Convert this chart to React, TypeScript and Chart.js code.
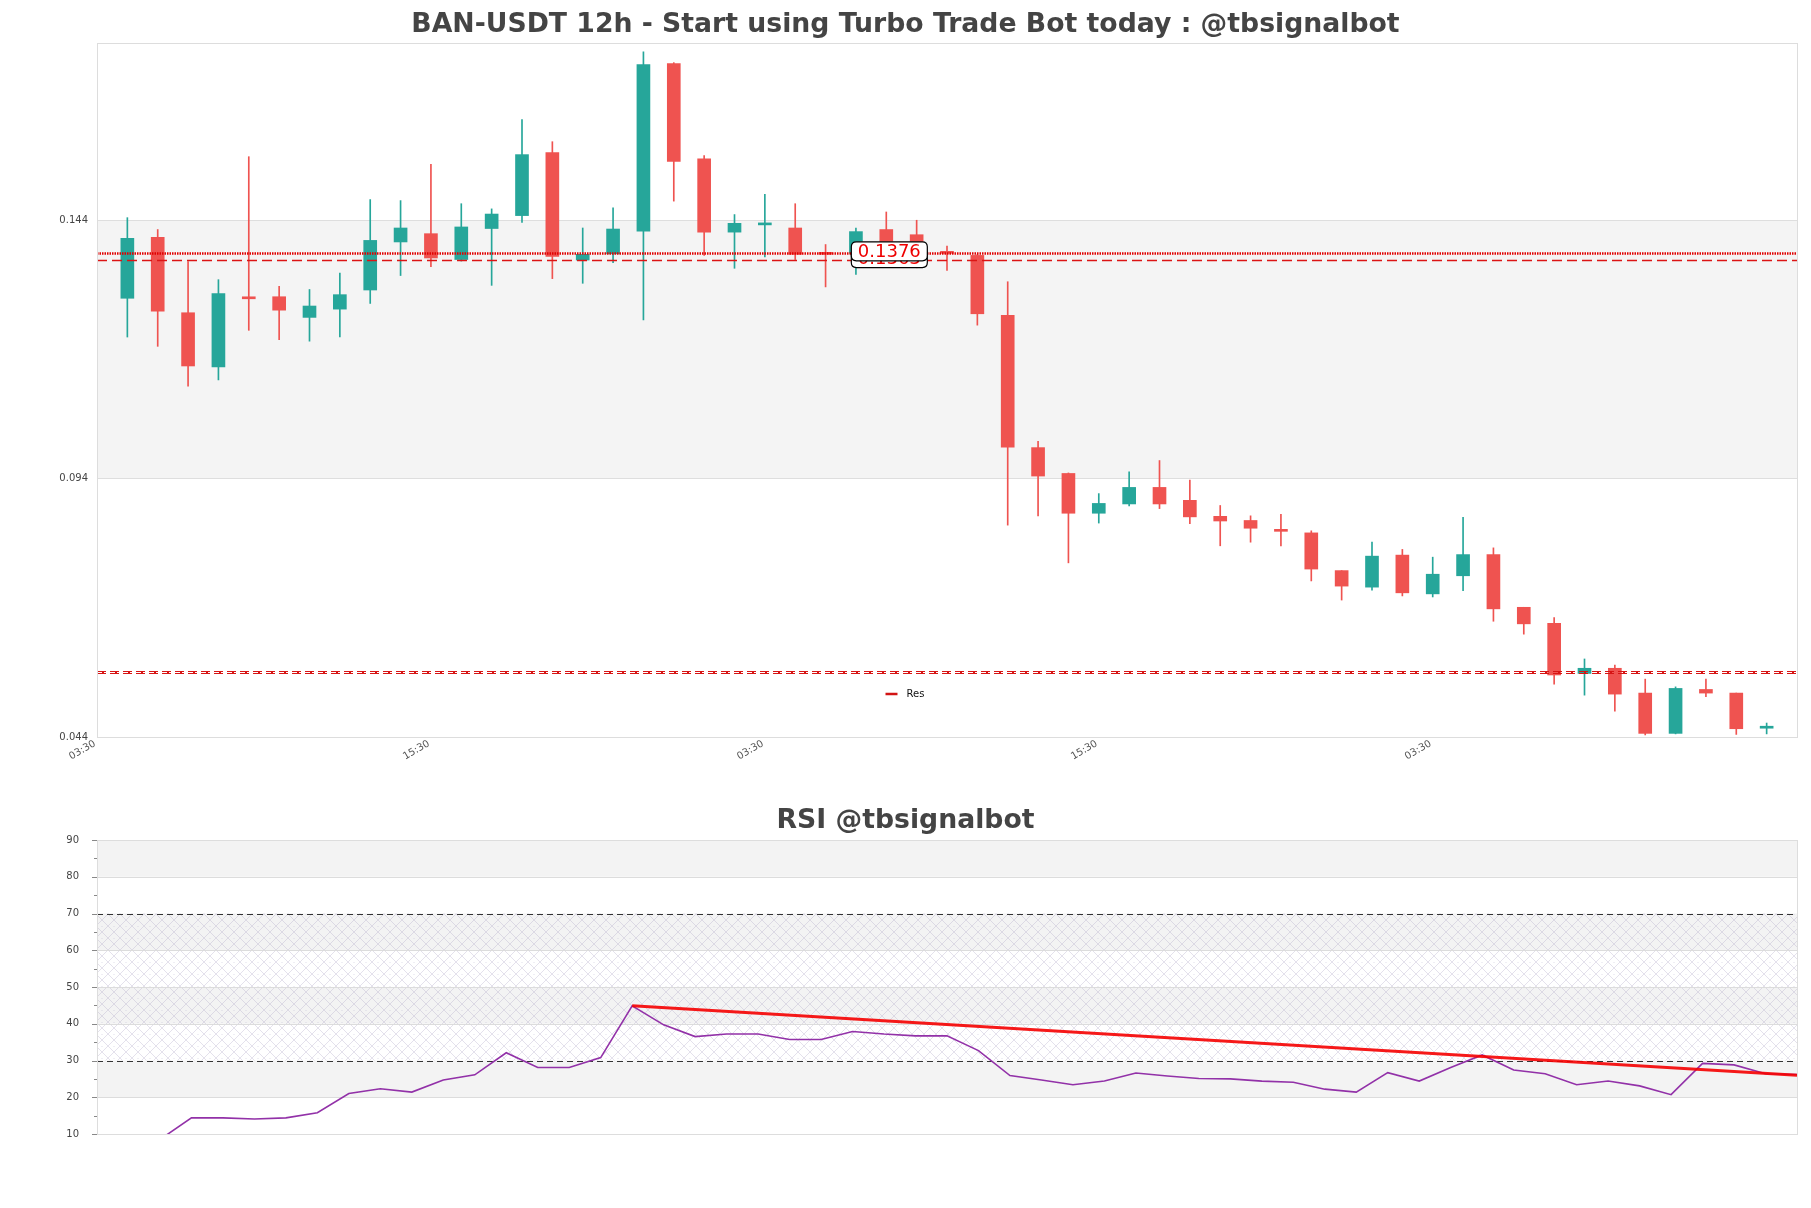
import React, { useEffect, useRef } from "react";
import { Chart, registerables } from "chart.js";

Chart.register(...registerables);

const mainTitle = "BAN-USDT 12h - Start using Turbo Trade Bot today : @tbsignalbot";
const rsiTitle = "RSI @tbsignalbot";
const legendLabel = "Res";

const opens = [
  0.1289, 0.1407, 0.1261, 0.1156, 0.129, 0.1292, 0.1252, 0.1268, 0.1305, 0.1398,
  0.1414, 0.1364, 0.1424, 0.1449, 0.1571, 0.1363, 0.1375, 0.1419, 0.1743, 0.1559,
  0.1417, 0.1431, 0.1425, 0.1376, 0.1376, 0.1422, 0.1412, 0.1378, 0.1372, 0.1256,
  0.1, 0.095, 0.0873, 0.0891, 0.0923, 0.0898, 0.0867, 0.0859, 0.0839, 0.0835,
  0.0762, 0.073, 0.0792, 0.0717, 0.0752, 0.0793, 0.0691, 0.066, 0.0563, 0.0573,
  0.0525, 0.0447, 0.0532, 0.0525, 0.0457,
];
const highs = [
  0.1445, 0.1422, 0.136, 0.1325, 0.1563, 0.1312, 0.1306, 0.1338, 0.148, 0.1478,
  0.1548, 0.1472, 0.1462, 0.1635, 0.1592, 0.1425, 0.1464, 0.1766, 0.1745, 0.1565,
  0.1451, 0.149, 0.1472, 0.1393, 0.1425, 0.1456, 0.144, 0.139, 0.1374, 0.1321,
  0.1012, 0.0951, 0.0911, 0.0953, 0.0975, 0.0937, 0.0888, 0.0868, 0.0871, 0.0839,
  0.0762, 0.0817, 0.0803, 0.0788, 0.0865, 0.0806, 0.0691, 0.0671, 0.0591, 0.0579,
  0.0552, 0.0537, 0.0552, 0.0525, 0.0467,
];
const lows = [
  0.1214, 0.1196, 0.1119, 0.1131, 0.1227, 0.1209, 0.1206, 0.1214, 0.1279, 0.1333,
  0.135, 0.1361, 0.1314, 0.1436, 0.1327, 0.1318, 0.1358, 0.1247, 0.1477, 0.1372,
  0.1347, 0.1369, 0.1364, 0.1311, 0.1335, 0.1372, 0.1348, 0.1343, 0.1237, 0.085,
  0.0868, 0.0777, 0.0854, 0.0887, 0.0882, 0.0853, 0.081, 0.0817, 0.081, 0.0742,
  0.0705, 0.0724, 0.0713, 0.0711, 0.0723, 0.0664, 0.0639, 0.0542, 0.0521, 0.049,
  0.0444, 0.0446, 0.0518, 0.0445, 0.0446,
];
const closes = [
  0.1405, 0.1264, 0.1158, 0.1298, 0.1288, 0.1266, 0.1274, 0.1296, 0.1401, 0.1425,
  0.1367, 0.1427, 0.1452, 0.1567, 0.137, 0.1374, 0.1423, 0.1741, 0.1554, 0.1417,
  0.1434, 0.1433, 0.1374, 0.1374, 0.1418, 0.139, 0.1385, 0.1376, 0.1259, 0.1001,
  0.0945, 0.0873, 0.0892, 0.0923, 0.0891, 0.0866, 0.0858, 0.0844, 0.0838, 0.0765,
  0.0732, 0.079, 0.0719, 0.0755, 0.0793, 0.0688, 0.0659, 0.056, 0.0573, 0.0523,
  0.0447, 0.0534, 0.0525, 0.0456, 0.0458,
];

const rsiValues: (number | null)[] = [
  null, null, 8.5, 14.4, 14.4, 14.1, 14.4, 15.8, 21.0, 22.3,
  21.4, 24.7, 26.1, 32.1, 28.1, 28.1, 30.8, 44.9, 39.7, 36.5,
  37.2, 37.2, 35.7, 35.7, 37.9, 37.2, 36.7, 36.7, 32.7, 25.9,
  24.7, 23.4, 24.4, 26.6, 25.8, 25.1, 25.0, 24.4, 24.1, 22.2,
  21.4, 26.7, 24.4, 28.1, 31.5, 27.4, 26.4, 23.4, 24.4, 23.1,
  20.7, 29.2, 28.8, 26.4, 26.2,
];
const trendX = [17, 54];
const trendY = [44.9, 26.0];

const levelValues = [0.1376, 0.1363, 0.0565];
const levelLabels = ["0.1376", "0.1363"];
const priceTicks = [0.044, 0.094, 0.144];
const xTickPositions = [-1, 10, 21, 32, 43];
const xTickLabels = ["03:30", "15:30", "03:30", "15:30", "03:30"];
const rsiTicks = [10, 15, 20, 25, 30, 35, 40, 45, 50, 55, 60, 65, 70, 75, 80, 85, 90];

const GREEN = "#26a69a";
const RED = "#ef5350";
const FONT = "'DejaVu Sans', sans-serif";
const W = 1811;
const MAIN_H = 770;
const RSI_TOP = 770;
const RSI_H = 438;

function roundRect(ctx: CanvasRenderingContext2D, x: number, y: number, w: number, h: number, r: number) {
  ctx.beginPath();
  ctx.moveTo(x + r, y);
  ctx.lineTo(x + w - r, y);
  ctx.quadraticCurveTo(x + w, y, x + w, y + r);
  ctx.lineTo(x + w, y + h - r);
  ctx.quadraticCurveTo(x + w, y + h, x + w - r, y + h);
  ctx.lineTo(x + r, y + h);
  ctx.quadraticCurveTo(x, y + h, x, y + h - r);
  ctx.lineTo(x, y + r);
  ctx.quadraticCurveTo(x, y, x + r, y);
  ctx.closePath();
}

const mainPlugin = {
  id: "mainDeco",
  beforeDraw(chart: any) {
    const { ctx, chartArea: a, scales } = chart;
    const y = scales.y;
    ctx.save();
    ctx.fillStyle = "#ffffff";
    ctx.fillRect(a.left, a.top, a.right - a.left, a.bottom - a.top);
    const yt = y.getPixelForValue(priceTicks[2]);
    const yb = y.getPixelForValue(priceTicks[1]);
    ctx.fillStyle = "#f4f4f4";
    ctx.fillRect(a.left, yt, a.right - a.left, yb - yt);
    ctx.restore();
  },
  afterDatasetsDraw(chart: any) {
    const { ctx, chartArea: a, scales } = chart;
    const y = scales.y;
    const x = scales.x;
    ctx.save();
    // dotted level
    let py = Math.round(y.getPixelForValue(levelValues[0])) + 0.5;
    ctx.strokeStyle = "rgb(225,0,0)";
    ctx.lineWidth = 2.5;
    ctx.setLineDash([1.5, 1]);
    ctx.beginPath();
    ctx.moveTo(a.left, py);
    ctx.lineTo(a.right, py);
    ctx.stroke();
    // dashed level
    py = Math.round(y.getPixelForValue(levelValues[1])) + 0.5;
    ctx.strokeStyle = "rgb(220,20,20)";
    ctx.lineWidth = 1.5;
    ctx.setLineDash([10, 5]);
    ctx.beginPath();
    ctx.moveTo(a.left, py);
    ctx.lineTo(a.right, py);
    ctx.stroke();
    // lower double dashed level
    py = Math.round(y.getPixelForValue(levelValues[2])) + 0.5;
    ctx.lineWidth = 1;
    ctx.strokeStyle = "rgb(215,20,20)";
    ctx.setLineDash([9, 4]);
    for (const off of [-1, 1]) {
      ctx.beginPath();
      ctx.moveTo(a.left, py + off);
      ctx.lineTo(a.right, py + off);
      ctx.stroke();
    }
    ctx.setLineDash([2, 11]);
    ctx.lineWidth = 3;
    ctx.beginPath();
    ctx.moveTo(a.left + 5, py);
    ctx.lineTo(a.right, py);
    ctx.stroke();
    ctx.setLineDash([]);

    // label boxes
    const cx = x.getPixelForValue(25.1);
    const drawBox = (val: number, text: string) => {
      const cy = y.getPixelForValue(val) - 2;
      const bw = 76;
      const bh = 19;
      roundRect(ctx, cx - bw / 2, cy - bh / 2, bw, bh, 5);
      ctx.fillStyle = "#ffffff";
      ctx.fill();
      ctx.strokeStyle = "#000000";
      ctx.lineWidth = 1.2;
      ctx.stroke();
      ctx.fillStyle = "#ee0000";
      ctx.font = `18px ${FONT}`;
      ctx.textAlign = "center";
      ctx.textBaseline = "middle";
      ctx.fillText(text, cx, cy + 1);
    };
    drawBox(levelValues[1], levelLabels[1]);
    drawBox(levelValues[0], levelLabels[0]);

    // legend
    const lx = W / 2;
    const ly = a.bottom - 43;
    ctx.strokeStyle = "rgb(210,20,20)";
    ctx.lineWidth = 2.5;
    ctx.beginPath();
    ctx.moveTo(lx - 20, ly);
    ctx.lineTo(lx - 8, ly);
    ctx.stroke();
    ctx.fillStyle = "#111";
    ctx.font = `10px ${FONT}`;
    ctx.textAlign = "left";
    ctx.textBaseline = "middle";
    ctx.fillText(legendLabel, lx + 1, ly);

    ctx.restore();
  },
  afterDraw(chart: any) {
    const { ctx, chartArea: a, scales } = chart;
    const x = scales.x;
    ctx.save();
    ctx.strokeStyle = "#dddddd";
    ctx.lineWidth = 1;
    ctx.strokeRect(Math.round(a.left) + 0.5, Math.round(a.top) + 0.5, Math.round(a.right - a.left), Math.round(a.bottom - a.top));
    // rotated x tick labels
    ctx.fillStyle = "#555555";
    ctx.font = `10px ${FONT}`;
    ctx.textAlign = "right";
    ctx.textBaseline = "middle";
    xTickPositions.forEach((v, k) => {
      const px = x.getPixelForValue(v);
      ctx.save();
      ctx.translate(px - 2, a.bottom + 6);
      ctx.rotate((-30 * Math.PI) / 180);
      ctx.fillText(xTickLabels[k], 0, 0);
      ctx.restore();
    });
    ctx.fillStyle = "#444444";
    ctx.font = `bold 26.7px ${FONT}`;
    ctx.textAlign = "center";
    ctx.textBaseline = "middle";
    ctx.fillText(mainTitle, W / 2, 25);
    ctx.restore();
  },
};

let hatch: CanvasPattern | null = null;
function getHatch(ctx: CanvasRenderingContext2D) {
  if (hatch) return hatch;
  const p = document.createElement("canvas");
  p.width = 12;
  p.height = 12;
  const pc = p.getContext("2d")!;
  pc.strokeStyle = "rgba(170,160,195,0.4)";
  pc.lineWidth = 0.8;
  pc.beginPath();
  pc.moveTo(0, 0);
  pc.lineTo(12, 12);
  pc.moveTo(12, 0);
  pc.lineTo(0, 12);
  pc.stroke();
  pc.fillStyle = "rgba(170,160,195,0.35)";
  pc.fillRect(5.5, 0, 1, 1);
  hatch = ctx.createPattern(p, "repeat");
  return hatch;
}

const rsiPlugin = {
  id: "rsiDeco",
  beforeDraw(chart: any) {
    const { ctx, chartArea: a, scales } = chart;
    const y = scales.y;
    const w = a.right - a.left;
    ctx.save();
    ctx.fillStyle = "#ffffff";
    ctx.fillRect(a.left, a.top, w, a.bottom - a.top);
    ctx.fillStyle = "#f3f3f3";
    for (const [lo, hi] of [[80, 90], [60, 70], [40, 50], [20, 30]]) {
      const t = y.getPixelForValue(hi);
      const b = y.getPixelForValue(lo);
      ctx.fillRect(a.left, t, w, b - t);
    }
    const pat = getHatch(ctx);
    if (pat) {
      ctx.fillStyle = pat;
      const t = y.getPixelForValue(70);
      const b = y.getPixelForValue(30);
      ctx.fillRect(a.left, t, w, b - t);
    }
    ctx.restore();
  },
  beforeDatasetsDraw(chart: any) {
    const { ctx, chartArea: a, scales } = chart;
    const y = scales.y;
    ctx.save();
    ctx.lineWidth = 1;
    ctx.strokeStyle = "#dcdcdc";
    for (const v of [20, 40, 50, 60, 80]) {
      const py = Math.round(y.getPixelForValue(v)) + 0.5;
      ctx.beginPath();
      ctx.moveTo(a.left, py);
      ctx.lineTo(a.right, py);
      ctx.stroke();
    }
    ctx.strokeStyle = "#333333";
    ctx.lineWidth = 1.2;
    ctx.setLineDash([6, 4]);
    for (const v of [30, 70]) {
      const py = Math.round(y.getPixelForValue(v)) + 0.5;
      ctx.beginPath();
      ctx.moveTo(a.left, py);
      ctx.lineTo(a.right, py);
      ctx.stroke();
    }
    ctx.restore();
  },
  afterDraw(chart: any) {
    const { ctx, chartArea: a, scales } = chart;
    const y = scales.y;
    ctx.save();
    ctx.strokeStyle = "#dddddd";
    ctx.lineWidth = 1;
    ctx.strokeRect(Math.round(a.left) + 0.5, Math.round(a.top) + 0.5, Math.round(a.right - a.left), Math.round(a.bottom - a.top));
    ctx.strokeStyle = "#888888";
    for (const v of rsiTicks) {
      const py = Math.round(y.getPixelForValue(v)) + 0.5;
      const len = v % 10 === 0 ? 5 : 3;
      ctx.beginPath();
      ctx.moveTo(a.left - len, py);
      ctx.lineTo(a.left, py);
      ctx.stroke();
    }
    ctx.fillStyle = "#444444";
    ctx.font = `bold 26.7px ${FONT}`;
    ctx.textAlign = "center";
    ctx.textBaseline = "middle";
    ctx.fillText(rsiTitle, W / 2, 51);
    ctx.restore();
  },
};

export default function App() {
  const mainRef = useRef<HTMLCanvasElement>(null);
  const rsiRef = useRef<HTMLCanvasElement>(null);

  useEffect(() => {
    const candleColor = (ctx: any) => {
      const i = ctx.dataIndex;
      return closes[i] >= opens[i] ? GREEN : RED;
    };
    const main = new Chart(mainRef.current!, {
      type: "bar",
      data: {
        datasets: [
          {
            label: "body",
            data: opens.map((o, i) => ({ x: i, y: [o, closes[i]] })) as any,
            backgroundColor: candleColor,
            barThickness: 13,
            minBarLength: 2,
            grouped: false,
            order: 0,
          } as any,
          {
            label: "wick",
            data: lows.map((l, i) => ({ x: i, y: [l, highs[i]] })) as any,
            backgroundColor: candleColor,
            barThickness: 1,
            grouped: false,
            order: 1,
          } as any,
        ],
      },
      options: {
        animation: false,
        responsive: false,
        maintainAspectRatio: false,
        devicePixelRatio: 1,
        layout: { padding: { top: 43, right: 14, left: 0, bottom: 0 } },
        plugins: { legend: { display: false }, tooltip: { enabled: false }, title: { display: false } },
        scales: {
          x: {
            type: "linear",
            min: -1,
            max: 55,
            offset: false,
            grid: { display: false },
            border: { display: false },
            afterBuildTicks: (s: any) => {
              s.ticks = xTickPositions.map((v) => ({ value: v }));
            },
            afterFit: (s: any) => {
              s.height = 33;
            },
            ticks: { display: false },
          },
          y: {
            type: "linear",
            min: 0.044,
            max: 0.1783,
            afterBuildTicks: (s: any) => {
              s.ticks = priceTicks.map((v) => ({ value: v }));
            },
            afterFit: (s: any) => {
              s.width = 97;
            },
            grid: { color: "#dedede", drawTicks: false },
            border: { display: false },
            ticks: {
              padding: 9,
              color: "#444444",
              font: { family: FONT, size: 10 },
              callback: (v: any) => Number(v).toFixed(3),
            },
          },
        },
      } as any,
      plugins: [mainPlugin],
    });

    const rsi = new Chart(rsiRef.current!, {
      type: "line",
      data: {
        datasets: [
          {
            label: "RSI",
            data: rsiValues.map((v, i) => ({ x: i, y: v })) as any,
            borderColor: "#9231a8",
            borderWidth: 1.6,
            pointRadius: 0,
            fill: false,
            order: 1,
          },
          {
            label: "trend",
            data: trendX.map((x, i) => ({ x, y: trendY[i] })),
            borderColor: "rgba(245,0,0,0.9)",
            borderWidth: 3,
            pointRadius: 0,
            fill: false,
            order: 0,
          },
        ],
      },
      options: {
        animation: false,
        responsive: false,
        maintainAspectRatio: false,
        devicePixelRatio: 1,
        layout: { padding: { top: 70, right: 14, left: 0, bottom: 74 } },
        plugins: { legend: { display: false }, tooltip: { enabled: false }, title: { display: false } },
        scales: {
          x: { type: "linear", min: 0, max: 54, display: false },
          y: {
            type: "linear",
            min: 10,
            max: 90,
            afterBuildTicks: (s: any) => {
              s.ticks = rsiTicks.map((v) => ({ value: v }));
            },
            afterFit: (s: any) => {
              s.width = 97;
            },
            grid: { display: false },
            border: { display: false },
            ticks: {
              autoSkip: false,
              padding: 10,
              color: "#444444",
              font: { family: FONT, size: 10 },
              callback: (v: any) => (Number(v) % 10 === 0 ? String(v) : ""),
            },
          },
        },
      } as any,
      plugins: [rsiPlugin],
    });

    return () => {
      main.destroy();
      rsi.destroy();
    };
  }, []);

  return (
    <div style={{ position: "absolute", left: 0, top: 0, width: W, height: 1208, background: "#fff" }}>
      <canvas ref={mainRef} width={W} height={MAIN_H} style={{ position: "absolute", left: 0, top: 0, display: "block" }} />
      <canvas ref={rsiRef} width={W} height={RSI_H} style={{ position: "absolute", left: 0, top: RSI_TOP, display: "block" }} />
    </div>
  );
}
